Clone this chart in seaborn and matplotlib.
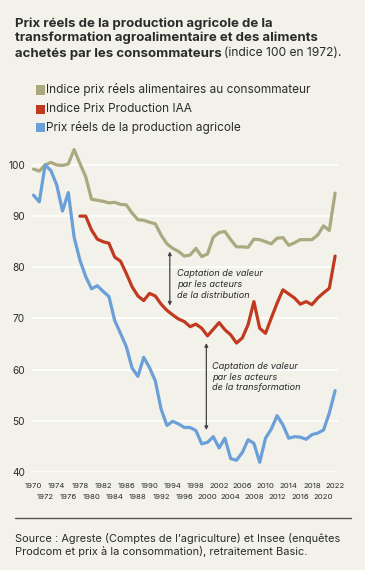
import matplotlib
matplotlib.use('Agg')
import matplotlib.pyplot as plt
from matplotlib.patches import Rectangle
from matplotlib.lines import Line2D
from matplotlib.ticker import FixedLocator
import numpy as np
import pandas as pd
import seaborn as sns

years = list(range(1970, 2023))

conso = [99.2, 98.8, 100.0, 100.5, 100.0, 99.9, 100.2, 103.0, 100.3, 97.7,
         93.3, 93.1, 92.9, 92.6, 92.7, 92.3, 92.2, 90.6, 89.3, 89.2,
         88.8, 88.5, 86.3, 84.6, 83.7, 83.1, 82.2, 82.4, 83.7, 82.1,
         82.6, 85.9, 86.8, 87.0, 85.4, 84.0, 84.0, 83.9, 85.5, 85.4,
         85.0, 84.6, 85.7, 85.8, 84.3, 84.8, 85.4, 85.4, 85.4, 86.3,
         88.1, 87.2, 94.5]

iaa_years = list(range(1978, 2023))
iaa = [90.0, 90.0, 87.3, 85.5, 85.0, 84.7, 82.0, 81.2, 78.8, 76.2,
       74.4, 73.5, 74.9, 74.4, 72.8, 71.6, 70.7, 69.9, 69.4, 68.4,
       68.9, 68.1, 66.6, 67.9, 69.2, 67.8, 66.8, 65.2, 66.2, 68.8,
       73.3, 68.1, 67.1, 70.1, 73.0, 75.6, 74.8, 74.0, 72.8, 73.3,
       72.7, 74.0, 75.0, 75.9, 82.2]

agri = [94.1, 92.8, 100.0, 98.9, 96.1, 91.0, 94.6, 85.9, 81.4, 78.2,
        75.8, 76.4, 75.3, 74.3, 69.6, 67.1, 64.5, 60.3, 58.7, 62.4,
        60.4, 57.8, 52.3, 49.1, 49.9, 49.4, 48.7, 48.7, 48.1, 45.5,
        45.8, 46.9, 44.7, 46.6, 42.6, 42.3, 43.8, 46.3, 45.6, 41.9,
        46.6, 48.4, 51.0, 49.2, 46.6, 46.9, 46.8, 46.4, 47.3, 47.6,
        48.2, 51.5, 55.9]

labels = ['Indice prix réels alimentaires au consommateur',
          'Indice Prix Production IAA',
          'Prix réels de la production agricole']
colors = ['#aba97f', '#c13a1f', '#6a9fd8']

top_ticks = list(range(1970, 2023, 4))
low_ticks = list(range(1972, 2021, 4))

BG = '#f2f1ea'
TXT = '#2b2b2b'

df = pd.concat([
    pd.DataFrame({'year': years, 'value': conso, 'serie': labels[0]}),
    pd.DataFrame({'year': iaa_years, 'value': iaa, 'serie': labels[1]}),
    pd.DataFrame({'year': years, 'value': agri, 'serie': labels[2]}),
])

sns.set_style('white')
plt.rcParams['font.family'] = ['Inter', 'DejaVu Sans']

W, H = 381, 570
fig = plt.figure(figsize=(W / 100, H / 100), dpi=100, facecolor='white')
fig.add_artist(Rectangle((0, 0), 365 / W, 1, transform=fig.transFigure,
                         facecolor=BG, edgecolor='none', zorder=-10))

ax = fig.add_axes([32 / W, 1 - 472 / H, 306 / W, 327 / H])
ax.set_facecolor(BG)
sns.lineplot(data=df, x='year', y='value', hue='serie', palette=colors,
             hue_order=labels, linewidth=2.3, ax=ax, legend=False)

ax.set_xlim(1969.74, 2022.5)
ax.set_ylim(40, 103.9)
ax.set_yticks([40, 50, 60, 70, 80, 90, 100])
ax.grid(axis='y', color='white', linewidth=1.2, zorder=0)
ax.set_axisbelow(True)
for s in ax.spines.values():
    s.set_visible(False)
ax.set_xlabel('')
ax.set_ylabel('')
ax.tick_params(axis='y', length=0, pad=5, labelsize=7.3, labelcolor=TXT)

# two staggered rows of year labels
ax.xaxis.set_major_locator(FixedLocator(top_ticks))
ax.xaxis.set_minor_locator(FixedLocator(low_ticks))
ax.set_xticklabels([str(y) for y in top_ticks])
ax.set_xticklabels([str(y) for y in low_ticks], minor=True)
ax.tick_params(axis='x', which='major', length=0, pad=8, labelsize=5.6, labelcolor=TXT)
ax.tick_params(axis='x', which='minor', length=0, pad=15.5, labelsize=5.6, labelcolor=TXT)

# annotations
arrow = dict(arrowstyle='<|-|>', color='#444444', lw=0.9, mutation_scale=5,
             shrinkA=0, shrinkB=0)
ax.annotate('', xy=(1993.5, 83.1), xytext=(1993.5, 72.5), arrowprops=arrow)
ax.text(1994.8, 79.6, 'Captation de valeur\npar les acteurs\nde la distribution',
        fontsize=6.6, style='italic', color=TXT, va='top', linespacing=1.25)
ax.annotate('', xy=(1999.8, 65.2), xytext=(1999.8, 48.2), arrowprops=arrow)
ax.text(2000.8, 61.5, 'Captation de valeur\npar les acteurs\nde la transformation',
        fontsize=6.6, style='italic', color=TXT, va='top', linespacing=1.25)

# title
fs_title = 9.5
fig.text(15 / W, 1 - 18 / H,
         'Prix réels de la production agricole de la\n'
         'transformation agroalimentaire et des aliments',
         fontsize=fs_title, fontweight='bold', color=TXT, va='top', linespacing=1.1)
t3 = fig.text(15 / W, 1 - 47.5 / H, 'achetés par les consommateurs',
              fontsize=fs_title, fontweight='bold', color=TXT, va='top')
fig.canvas.draw()
bb = t3.get_window_extent()
fig.text((bb.x1 + 2) / W, 1 - 47.5 / H, '(indice 100 en 1972).',
         fontsize=8.7, fontweight='normal', color=TXT, va='top')

# legend
for i, (lab, c) in enumerate(zip(labels, colors)):
    yc = [90, 109, 128][i]
    fig.add_artist(Rectangle((36 / W, 1 - (yc + 4.5) / H), 9 / W, 9 / H,
                             transform=fig.transFigure, facecolor=c, edgecolor='none'))
    fig.text(46 / W, 1 - yc / H, lab, fontsize=8.5, color=TXT, va='center')

# source
fig.add_artist(Line2D([15 / W, 351 / W], [1 - 518 / H, 1 - 518 / H],
                      transform=fig.transFigure, color='#555555', lw=1))
fig.text(15 / W, 1 - 533 / H,
         'Source : Agreste (Comptes de l’agriculture) et Insee (enquêtes\n'
         'Prodcom et prix à la consommation), retraitement Basic.',
         fontsize=7.9, color=TXT, va='top', linespacing=1.25)

fig.savefig('out.png', dpi=100, facecolor='white')
